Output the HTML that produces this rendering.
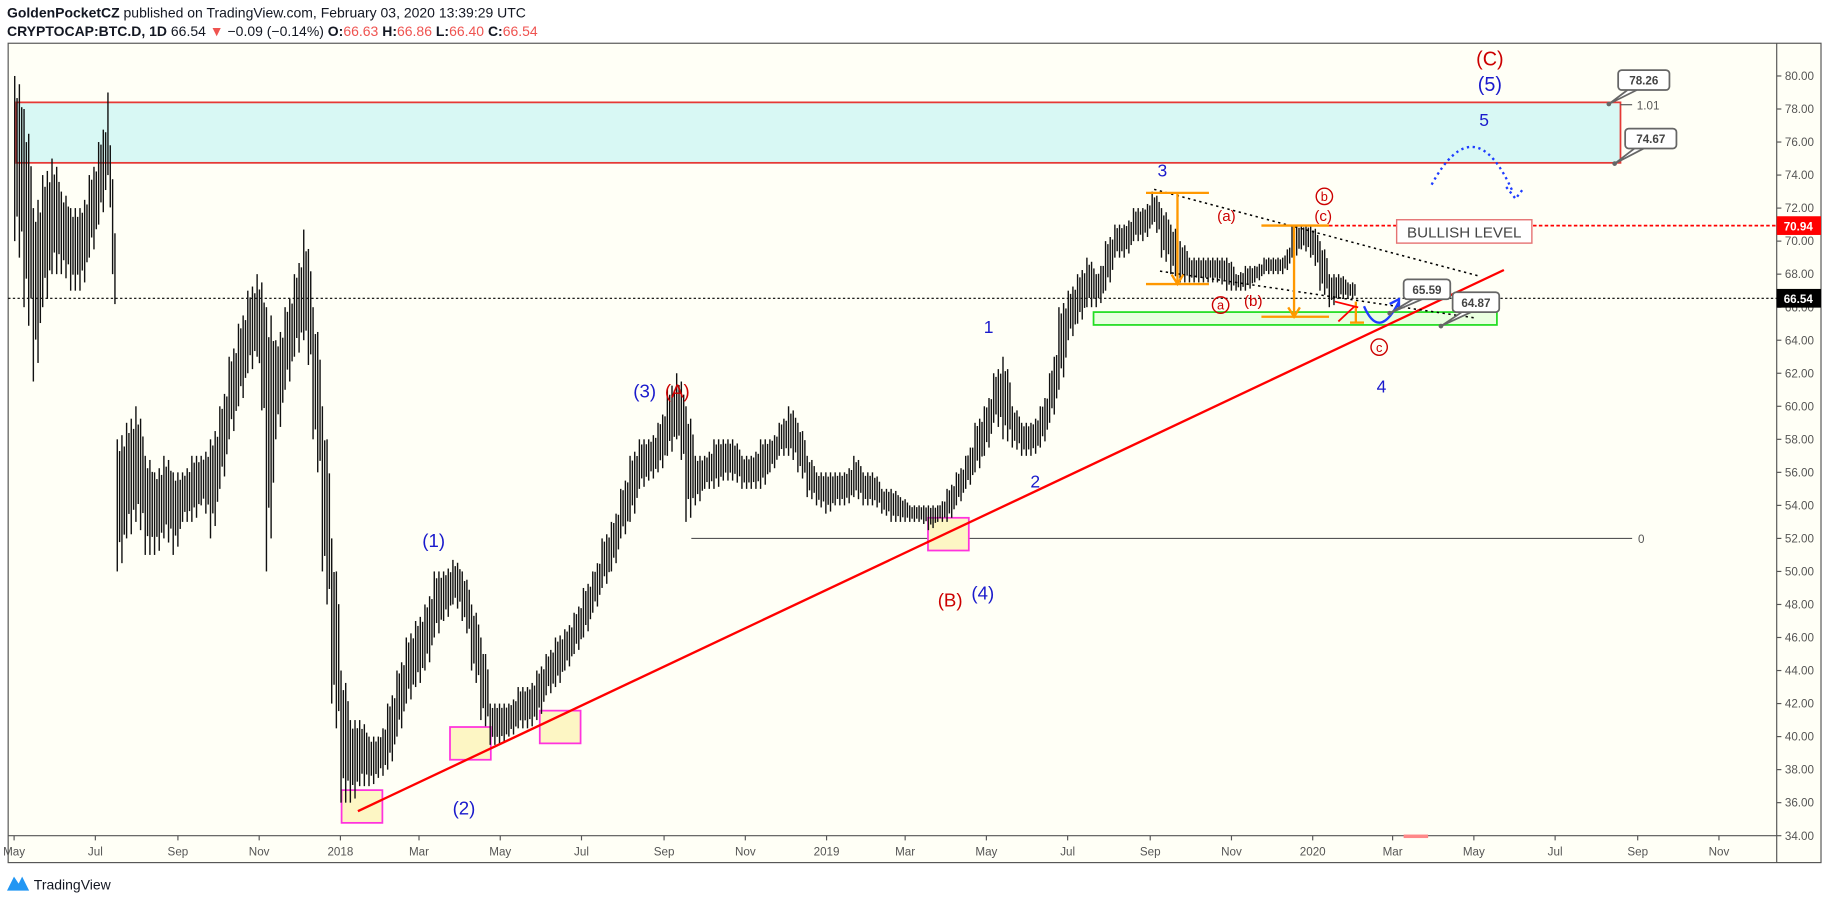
<!DOCTYPE html>
<html><head><meta charset="utf-8"><style>
html,body{margin:0;padding:0;background:#fff;width:1828px;height:900px;overflow:hidden;font-family:"Liberation Sans",sans-serif}
svg{display:block}
</style></head><body>
<svg id="chart" width="1828" height="900" viewBox="0 0 1568 770" preserveAspectRatio="none" xmlns="http://www.w3.org/2000/svg">
<text x="6" y="15" font-size="12" fill="#131722"><tspan font-weight="bold">GoldenPocketCZ</tspan> published on TradingView.com, February 03, 2020 13:39:29 UTC</text>
<text x="6" y="31" font-size="12" fill="#131722"><tspan font-weight="bold">CRYPTOCAP:BTC.D, 1D</tspan> 66.54 <tspan fill="#ef5350">▼</tspan> −0.09 (−0.14%) <tspan font-weight="bold">O:</tspan><tspan fill="#ef5350">66.63</tspan> <tspan font-weight="bold">H:</tspan><tspan fill="#ef5350">66.86</tspan> <tspan font-weight="bold">L:</tspan><tspan fill="#ef5350">66.40</tspan> <tspan font-weight="bold">C:</tspan><tspan fill="#ef5350">66.54</tspan></text>
<rect x="7" y="37" width="1555" height="701" fill="#fffff6" stroke="#555" stroke-width="1"/>
<line x1="1524" y1="37" x2="1524" y2="738" stroke="#555"/>
<line x1="7" y1="715" x2="1524" y2="715" stroke="#555"/>
<g id="yaxis"></g>
<g id="xaxis"></g>
<g id="ann"></g>
<g id="bars"></g>
<g id="ann2"></g>
<g><path d="M6 762 L12 750 L16 756 L19 750 L25 762 Z" fill="#2196f3"/><text x="29" y="761" font-size="12" fill="#131722">TradingView</text></g>
</svg>
<script>
const startDate = "2017-05-04";
const weeklyHigh = [80,78,72,74,75,73,72,72,74,76,79,58,59,60,57,56,57,56,56,57,57,58,60,63,65,67,68,66,64,66,68,70.7,66,60,52,44,41,41,40,40,42,44,46,47,48,50,50,50.7,50,48,46,42,42,42,43,43,44,45,46,46.5,47.5,49,50,52,53,55,57,58,58,59,61,62,60,57,57,58,58,58,57,57,58,58,59,60,59,57,56,56,56,56,57,56,56,55,55,54.5,54,54,54,54,55,56,57,59,60,62,63,60,59,59,60,62,66,67,68,69,68,70,71,71,72,72,73,72,71,70,69,69,69,69,69,68,68.5,68.5,69,69,69,71,71,71,70,68,68,67.5];
const weeklyLow = [70,66,61.5,66,68,68,67,67,69,71,74,50,52,53,51,51,52,51,53,53,54,52,55,58,60,62,63,50,58,61,63,64,58,50,42,36,36,37,37,37.5,38,40,42,43,44,46,47,48,47,44,41,39.5,39.5,40,40.5,40.5,41,42.5,43,44,45,46,47.5,49,50,52,53,55,55.5,56,57,58,53,54,55,55,55.5,55.5,55,55,55,56,57,57,56,54.5,54,53.5,54,54,54.5,54,54,53.5,53,53,53,53,52.5,53,53,54,55,56,57,59,58,57.5,57,57,57.5,59,61,64,65,66,66,67,69,69,70,70,71,69,68,67.5,67.5,67.5,67.5,67.5,67,67,67,67.5,68,68,68,69,69.5,69,67,66,66.5,66.5];
const yTicks = [80,78,76,74,72,70,68,66,64,62,60,58,56,54,52,50,48,46,44,42,40,38,36,34];
const monthLabels = ["May","Jul","Sep","Nov","2018","Mar","May","Jul","Sep","Nov","2019","Mar","May","Jul","Sep","Nov","2020","Mar","May","Jul","Sep","Nov"];
const monthStarts = ["2017-05-01","2017-07-01","2017-09-01","2017-11-01","2018-01-01","2018-03-01","2018-05-01","2018-07-01","2018-09-01","2018-11-01","2019-01-01","2019-03-01","2019-05-01","2019-07-01","2019-09-01","2019-11-01","2020-01-01","2020-03-01","2020-05-01","2020-07-01","2020-09-01","2020-11-01"];
const lastPrice = 66.54, bullishLevel = 70.94, fibTop = 78.26, fibBottom = 74.67, fibZero = 52.0;

const NS="http://www.w3.org/2000/svg";
const T0=Date.UTC(2018,0,1);
function x(d){const t=(typeof d==="string"?Date.parse(d+"T00:00:00Z"):d);return 292+(t-T0)/86400000*417/365;}
function y(v){return 65+(80-v)*14.13;}
function el(tag,attrs,parent,text){const e=document.createElementNS(NS,tag);for(const k in attrs)e.setAttribute(k,attrs[k]);if(text!==undefined)e.textContent=text;(parent||document.getElementById('ann')).appendChild(e);return e;}

const ya=document.getElementById('yaxis');
yTicks.forEach(v=>{
  const l=el('line',{x1:1524,x2:1528,y1:y(v),y2:y(v),stroke:'#555'},ya);
  
  
  const t=el('text',{x:1531,y:y(v)+3.5,'font-size':10,fill:'#555'},ya,v.toFixed(2));
  
  
});
const xa=document.getElementById('xaxis');
monthLabels.forEach((m,i)=>{
  const xx=x(monthStarts[i]);
  const l=el('line',{x1:xx,x2:xx,y1:715,y2:719,stroke:'#555'},xa);
  
  
  const t=el('text',{x:xx,y:732,'font-size':10,fill:'#555','text-anchor':'middle'},xa,m);
  
  
});

const A=document.getElementById('ann');
let e;
e=el('rect',{x:14,y:y(fibTop)-2,width:1376,height:y(fibBottom)-y(fibTop)+1,fill:'#d8f8f4',stroke:'#e53935','stroke-width':1.5});

e=el('line',{x1:7,x2:1524,y1:y(lastPrice),y2:y(lastPrice),stroke:'#000','stroke-dasharray':'2,2','stroke-width':1});

e=el('line',{x1:1085,x2:1524,y1:y(bullishLevel),y2:y(bullishLevel),stroke:'#f00','stroke-dasharray':'3,2','stroke-width':1.5});

e=el('line',{x1:593,x2:1400,y1:y(fibZero),y2:y(fibZero),stroke:'#555','stroke-width':1});

el('text',{x:1405,y:y(fibZero)+4,'font-size':10,fill:'#555'},A,'0');
el('line',{x1:1390,x2:1400,y1:y(fibTop),y2:y(fibTop),stroke:'#555'});
el('text',{x:1404,y:y(fibTop)+4,'font-size':10,fill:'#555'},A,'1.01');
[[293,676],[386,622],[463,608],[796,443]].forEach(([a,b])=>{
  e=el('rect',{x:a,y:b,width:35,height:28,fill:'#fdf6c4',stroke:'#ff33dd','stroke-width':1.5});
  
});
e=el('rect',{x:938,y:267,width:346,height:11,fill:'#eaffe0',stroke:'#22dd22','stroke-width':1.5});

el('rect',{x:1204,y:714,width:21,height:3,fill:'#f88'});

// series: dense thin bars per week
const B=document.getElementById('bars');
const s0=Date.parse(startDate+"T00:00:00Z");
weeklyHigh.forEach((h,i)=>{
  const lo=weeklyLow[i];
  const xx=x(s0+i*7*86400000);
  const nh=i+1<weeklyHigh.length?weeklyHigh[i+1]:h, nl=i+1<weeklyLow.length?weeklyLow[i+1]:lo;
  for(let k=0;k<4;k++){
    const f=k/4;
    const hh=h+(nh-h)*f*0.5, ll=lo+(nl-lo)*f*0.5;
    const r=el('rect',{x:xx-3.5+k*2,y:y(hh)+(k%2)*(hh-ll)*1.5,width:1.2,height:Math.max(1,(hh-ll)*14.13*(k%2?0.7:1)),fill:'#111'},B);
    
    
  }
});

const A2=document.getElementById('ann2');
function a2(tag,at,txt){return el(tag,at,A2,txt);}
e=a2('line',{x1:307,y1:694,x2:1290,y2:231,stroke:'#f00','stroke-width':2});

a2('line',{x1:990,y1:162,x2:1268,y2:236,stroke:'#000','stroke-dasharray':'2,3','stroke-width':1.3});
a2('line',{x1:995,y1:232,x2:1265,y2:272,stroke:'#000','stroke-dasharray':'2,3','stroke-width':1.3});
const OR='#ff9800';
[[983,1037,1010,165,243],[1082,1140,1110,193,271]].forEach(([l,r,c,t,b])=>{
  a2('line',{x1:l,x2:r,y1:t,y2:t,stroke:OR,'stroke-width':2});
  a2('line',{x1:l,x2:r,y1:b,y2:b,stroke:OR,'stroke-width':2});
  a2('line',{x1:c,x2:c,y1:t,y2:b,stroke:OR,'stroke-width':2});
  a2('path',{d:`M${c-5} ${b-8} L${c} ${b} L${c+5} ${b-8}`,fill:'none',stroke:OR,'stroke-width':2});
});
a2('line',{x1:1158,x2:1170,y1:276,y2:276,stroke:OR,'stroke-width':2});
a2('line',{x1:1163,x2:1163,y1:258,y2:276,stroke:OR,'stroke-width':2});
a2('path',{d:'M1145 258 L1165 263 M1148 275 L1162 262',stroke:'#f00','stroke-width':1.5,fill:'none'});
a2('path',{d:'M1170 262 Q1183 292 1200 258 M1192 260 L1200 256 L1200 265',stroke:'#1e3cff','stroke-width':2,fill:'none'});
a2('path',{d:'M1228 158 Q1265 90 1298 165 M1292 160 L1300 170 L1307 161',stroke:'#1e3cff','stroke-width':2,fill:'none','stroke-dasharray':'2,3'});
function callout(bx,by,w,txt,px,py){
  a2('path',{d:`M${bx+8} ${by+17} L${px} ${py} L${bx+16} ${by+17}`,fill:'#fff',stroke:'#666','stroke-width':1.5});
  const r=a2('rect',{x:bx,y:by,width:w,height:17,rx:3,fill:'#fff',stroke:'#666','stroke-width':1.5});
  
  a2('text',{x:bx+w/2,y:by+12.5,'font-size':10,'font-weight':'bold',fill:'#444','text-anchor':'middle'},txt);
  a2('circle',{cx:px,cy:py,r:2,fill:'#666'});
}
callout(1388,60,44,'78.26',1380,89);
callout(1394,110,44,'74.67',1385,140);
callout(1204,239,40,'65.59',1192,268);
callout(1246,250,40,'64.87',1236,279);
e=a2('rect',{x:1198,y:188,width:116,height:20,fill:'#fff',stroke:'#e57373','stroke-width':1.2});

a2('text',{x:1256,y:203,'font-size':13,fill:'#444','text-anchor':'middle'},'BULLISH LEVEL');
e=a2('rect',{x:1524,y:y(bullishLevel)-8,width:38,height:16,fill:'#f00'});
a2('text',{x:1530,y:y(bullishLevel)+4,'font-size':10,'font-weight':'bold',fill:'#fff'},'70.94');
e=a2('rect',{x:1524,y:y(lastPrice)-8,width:38,height:16,fill:'#000'});
a2('text',{x:1530,y:y(lastPrice)+4,'font-size':10,'font-weight':'bold',fill:'#fff'},'66.54');
const BL='#1a1acc', RD='#cc0000';
[['(C)',1278,56,RD,17],['(5)',1278,78,BL,17],['5',1273,108,BL,15],['3',997,151,BL,15],['(a)',1052,189,RD,13],['(c)',1135,189,RD,13],['(b)',1075,262,RD,13],['4',1185,336,BL,15],['1',848,285,BL,15],['2',888,417,BL,15],['(3)',553,340,BL,16],['(A)',581,340,RD,16],['(B)',815,519,RD,16],['(4)',843,513,BL,16],['(1)',372,468,BL,16],['(2)',398,697,BL,16]].forEach(([t,xx,yy,c,fs])=>{
  const n=a2('text',{x:xx,y:yy,'font-size':fs,fill:c,'text-anchor':'middle'},t);
  
});
[['b',1136,168],['a',1047,261],['c',1183,297]].forEach(([t,xx,yy])=>{
  a2('circle',{cx:xx,cy:yy,r:7,fill:'none',stroke:RD,'stroke-width':1.2});
  const n=a2('text',{x:xx,y:yy+4,'font-size':11,fill:RD,'text-anchor':'middle'},t);
  
});
</script>
</body></html>
